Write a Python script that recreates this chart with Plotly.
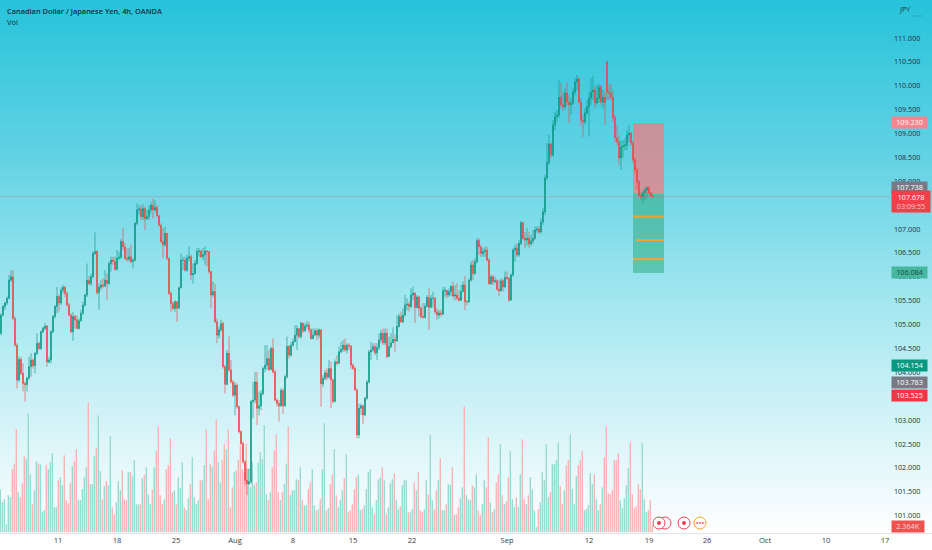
import numpy as np
import plotly.graph_objects as go

# ---- price data (4h candles) ----
first_open = 104.82
open_overrides = {303: 110.50}
closes = [
105.20,105.38,105.45,105.55,105.93,106.00,105.13,104.57,103.84,104.27,
103.98,103.77,103.74,103.88,104.12,104.26,104.14,104.40,104.61,104.50,
104.85,104.92,104.97,104.22,104.26,104.85,105.17,105.38,105.59,105.45,
105.72,105.78,105.65,105.41,105.20,104.85,105.17,105.10,104.92,105.08,
105.24,105.41,105.62,105.93,105.86,106.00,106.49,106.53,105.67,105.78,
105.83,105.81,105.93,105.86,106.28,106.35,106.32,106.16,106.39,106.41,
106.74,106.63,106.39,106.37,106.42,
106.32,106.35,107.12,107.40,107.42,107.26,107.43,107.22,107.26,107.40,
107.50,107.40,107.45,107.28,107.08,106.74,106.67,106.91,106.39,105.65,
105.44,105.34,105.48,105.34,105.77,106.35,106.35,106.14,106.39,106.42,
106.04,106.07,106.28,106.53,106.54,106.42,106.46,106.54,106.53,106.11,
105.62,105.69,105.06,104.78,104.89,105.02,104.12,103.75,104.40,104.05,
103.80,103.52,103.73,103.28,102.76,102.51,102.13,101.74,101.67,101.71,
103.39,103.42,103.80,103.25,103.30,
103.56,104.08,104.15,104.29,104.06,104.50,104.01,103.42,103.35,103.30,
103.62,103.30,103.91,104.54,104.36,104.57,104.64,104.78,104.92,104.75,
105.03,104.87,104.97,104.99,104.89,104.71,104.78,104.87,104.78,104.89,
103.76,103.87,103.99,103.90,104.08,103.84,103.39,104.22,104.19,104.43,
104.48,104.57,104.47,104.57,104.55,104.15,104.08,103.63,102.69,103.25,
103.30,103.11,103.46,103.80,104.43,104.47,104.54,104.41,104.52,104.68,
104.82,104.62,104.82,104.33,104.54,
104.62,104.69,104.66,104.96,105.17,105.06,105.20,105.41,105.43,105.38,
105.62,105.66,105.36,105.58,105.34,105.17,105.15,105.38,105.57,105.36,
105.55,105.55,105.27,105.20,105.24,105.22,105.71,105.72,105.62,105.69,
105.80,105.60,105.62,105.55,105.51,105.69,105.83,105.48,105.48,105.93,
106.25,106.07,106.32,106.76,106.63,106.49,106.53,106.56,106.35,105.86,
106.00,105.90,105.92,105.74,105.71,105.92,105.79,105.99,105.97,105.51,
106.04,106.56,106.60,106.46,106.70,
107.13,106.81,106.77,106.81,106.69,106.75,106.81,106.98,107.00,106.94,
107.15,107.36,108.07,108.40,108.78,108.55,109.18,109.35,109.39,109.76,
109.60,109.56,109.85,109.66,109.60,109.64,109.87,110.08,110.14,109.66,
109.28,109.24,109.43,109.56,109.74,109.87,109.91,109.64,109.74,109.97,
109.66,109.76,109.64,109.87,109.85,109.76,109.33,108.91,108.82,108.49,
108.72,108.74,108.76,108.97,109.01,108.80,108.45,108.24,107.99,107.71,
107.67,107.76,107.82,107.86,107.76,107.70,107.678]
highs = [
105.24,105.41,105.48,105.59,106.04,106.14,106.13,105.17,104.61,104.33,
104.33,104.19,103.81,103.91,104.33,104.40,104.29,104.43,104.82,104.64,
104.88,104.96,105.03,104.99,104.33,104.88,105.20,105.41,105.79,105.62,
105.78,105.83,105.81,105.69,105.45,105.23,105.27,105.20,105.20,105.13,
105.31,105.48,105.65,106.28,106.02,106.07,106.53,106.93,106.56,105.86,
105.93,105.97,106.14,106.07,106.32,106.42,106.42,106.42,106.56,106.53,
106.79,107.02,106.70,106.60,106.60,
106.67,106.39,107.15,107.54,107.50,107.50,107.52,107.47,107.40,107.50,
107.56,107.64,107.61,107.50,107.29,107.12,107.02,107.05,106.92,106.40,
105.69,105.48,105.51,105.48,105.79,106.49,106.42,106.42,106.46,106.63,
106.46,106.28,106.35,106.60,106.60,106.56,106.60,106.63,106.56,106.54,
106.12,105.90,105.86,105.13,104.96,105.10,105.06,104.16,104.47,104.75,
104.26,103.84,103.80,103.77,103.31,102.79,102.55,102.16,101.99,101.99,
103.42,103.80,104.01,104.01,103.60,
103.63,104.12,104.57,104.57,104.47,104.54,104.71,104.05,103.46,103.42,
103.67,103.67,103.94,104.75,104.57,104.64,104.71,104.99,104.99,104.92,
105.06,105.04,105.03,105.08,105.06,104.92,104.92,104.92,104.92,104.92,
104.90,103.94,104.05,104.08,104.26,104.22,103.87,104.27,104.36,104.54,
104.64,104.68,104.71,104.61,104.61,104.57,104.19,104.12,103.67,103.35,
103.35,103.32,103.49,103.84,104.47,104.64,104.61,104.61,104.61,104.82,
104.89,104.92,104.92,104.92,104.75,
104.82,104.94,104.78,105.20,105.23,105.27,105.34,105.62,105.55,105.48,
105.76,105.79,105.67,105.62,105.60,105.38,105.45,105.45,105.62,105.76,
105.62,105.69,105.58,105.34,105.31,105.31,105.79,105.79,105.72,105.76,
105.83,105.90,105.83,105.86,105.72,105.83,105.90,106.02,105.51,105.97,
106.32,106.35,106.39,106.81,106.81,106.67,106.60,106.63,106.63,106.39,
106.04,106.04,106.00,105.95,105.93,105.97,105.95,106.11,106.11,106.00,
106.07,106.60,106.67,106.70,106.77,
107.17,107.15,106.94,107.02,106.94,106.88,106.98,107.06,107.06,107.06,
107.23,107.44,108.13,108.80,108.97,108.80,109.28,109.45,109.49,110.12,
110.06,109.87,109.95,110.06,109.80,109.74,109.95,110.16,110.23,110.18,
109.74,109.39,109.53,109.70,109.87,110.16,110.20,109.99,110.02,110.04,
110.02,109.91,109.87,110.52,110.02,110.04,109.91,109.39,109.18,108.97,
108.86,108.86,108.91,109.07,109.18,109.03,108.86,108.49,108.28,108.03,
107.78,107.82,107.88,107.90,107.90,107.78,107.72]
lows = [
104.78,105.17,105.31,105.41,105.53,105.90,105.10,104.54,103.67,103.80,
103.94,103.60,103.39,103.60,103.84,103.91,104.08,103.98,104.36,104.47,
104.47,104.82,104.89,104.12,104.19,104.19,104.82,105.13,105.24,105.27,
105.41,105.65,105.58,105.38,105.17,104.82,104.66,104.92,104.90,104.90,
105.06,105.20,105.38,105.58,105.83,105.81,105.97,106.46,105.62,105.31,
105.72,105.76,105.78,105.52,105.83,106.11,106.25,106.13,106.13,106.35,
106.37,106.56,106.35,106.32,106.32,
106.28,106.18,106.32,107.08,107.29,107.19,107.19,106.98,107.19,107.19,
107.33,107.22,107.36,107.26,107.05,106.70,106.39,106.63,106.35,105.62,
105.27,105.30,105.27,105.06,105.34,105.76,106.14,106.11,106.11,106.32,
105.93,105.86,106.04,106.25,106.42,106.39,106.35,106.25,106.21,106.07,
105.34,105.58,105.03,104.61,104.71,104.85,104.08,103.56,103.73,104.01,
103.77,103.49,103.10,103.24,102.72,102.48,102.09,101.64,101.43,101.64,
101.67,103.04,103.35,102.90,103.10,
103.21,103.52,104.00,104.05,104.03,104.05,103.98,103.39,103.28,102.97,
103.28,103.13,103.28,103.87,104.29,104.33,104.54,104.64,104.47,104.71,
104.71,104.82,104.85,104.92,104.82,104.68,104.69,104.82,104.68,104.71,
103.28,103.69,103.84,103.84,103.87,103.25,103.35,103.39,104.15,104.19,
104.40,104.43,104.43,104.40,104.47,104.08,104.05,103.62,102.62,102.62,
103.11,102.92,103.08,103.43,103.77,104.26,104.43,104.36,104.26,104.47,
104.61,104.57,104.57,104.29,104.33,
104.50,104.64,104.43,104.64,104.94,105.03,105.03,105.17,105.30,105.27,
105.34,105.51,105.03,105.34,105.17,105.13,105.13,105.13,105.36,104.89,
105.36,105.36,105.23,105.10,105.13,105.17,105.20,105.58,105.55,105.58,
105.60,105.55,105.51,105.51,105.48,105.55,105.69,105.30,105.41,105.45,
105.90,105.93,106.04,106.28,106.46,106.42,106.42,106.42,106.32,105.83,
105.83,105.83,105.86,105.71,105.60,105.69,105.69,105.76,105.93,105.48,
105.51,106.00,106.32,106.42,106.42,
106.67,106.77,106.60,106.65,106.60,106.65,106.69,106.77,106.92,106.90,
106.90,107.09,107.29,108.03,108.34,108.49,108.51,109.07,109.24,109.33,
109.53,109.47,109.51,109.58,109.22,109.39,109.60,109.81,109.91,109.60,
109.18,108.93,109.18,109.39,108.94,109.60,109.70,109.53,109.60,109.64,
109.60,109.53,109.18,109.70,109.70,109.70,109.24,108.82,108.76,108.34,
108.24,108.49,108.65,108.65,108.82,108.74,108.38,108.17,107.82,107.67,
107.61,107.55,107.61,107.65,107.71,107.65,107.66]
# relative volume units (last bar corresponds to 2.364K)
volumes = [
130,90,100,25,110,105,190,205,310,120,
105,147,227,220,358,175,83,127,212,207,
205,60,65,202,190,210,238,75,75,157,
165,140,232,95,87,148,198,213,250,95,
95,130,165,195,390,145,143,227,253,352,
183,100,138,153,140,287,75,55,90,152,
127,187,100,95,180,
180,167,217,85,85,85,162,172,195,115,
85,130,195,243,318,110,85,100,190,200,
283,120,125,85,165,133,210,75,65,102,
145,225,105,85,95,155,155,202,310,100,
205,195,245,340,210,150,215,265,250,310,
75,135,180,185,215,260,190,180,265,190,
135,210,140,150,210,
240,218,320,115,95,120,195,245,295,120,
95,120,145,205,317,110,125,125,160,155,
195,95,80,80,130,150,188,80,65,70,
100,190,327,65,73,145,173,250,110,75,
95,125,162,235,60,65,85,130,165,175,
65,70,80,130,180,190,75,55,95,160,
165,195,155,55,75,
148,160,178,95,70,77,142,155,157,60,
60,70,150,125,180,67,60,70,157,113,
290,95,70,125,155,223,65,65,85,145,
140,195,50,55,75,103,135,377,110,100,
97,140,135,175,65,50,85,157,135,285,
90,60,70,150,175,263,110,85,93,165,
242,100,75,105,75,
175,280,100,85,110,165,130,65,15,70,
90,180,155,265,105,120,205,205,215,270,
138,85,127,200,215,295,130,85,167,200,
215,242,67,70,80,177,145,173,100,67,
85,135,225,318,117,113,127,217,215,238,
95,73,103,142,192,270,115,73,77,143,
128,267,100,60,65,95,21]

price_ticks = [101,101.5,102,102.5,103,103.5,104,104.5,105,105.5,106,106.5,107,107.5,108,108.5,109,109.5,110,110.5,111]
date_tick_pos = [28.5,58,87.5,117,146,176,205.5,253,294,324,353,382,412.5,442]
date_tick_text = ["11","18","25","Aug","8","15","22","Sep","12","19","26","Oct","10","17"]
event_pos = [332,329,341.5]

stop_price, entry_price, target_price = 109.230, 107.738, 106.084
take_profits = [107.26,106.77,106.37]
last_price = 107.678

assert len(closes)==len(highs)==len(lows)==len(volumes), (len(closes),len(highs),len(lows),len(volumes))

n = len(closes)
opens = [first_open] + closes[:-1]
for k, v in open_overrides.items():
    opens[k] = v
idx = list(range(n))

vol_colors = ["#98d9d0" if c >= o else "#f7b6b4" for o, c in zip(opens, closes)]

W, H = 932, 550
FONT = "Open Sans"
TXT = "#24323f"

fig = go.Figure()

# gradient backdrop
gy = np.linspace(0, 1, 134)
fig.add_trace(go.Heatmap(x=[-0.5, 465.5], y=gy, z=[[v, v] for v in gy], showscale=False, hoverinfo="skip",
    zmin=0, zmax=1,
    colorscale=[[0, "#ffffff"], [0.12, "#e6f8fb"], [0.45, "#a0e6ef"], [0.7, "#63d3e4"], [1, "#26c3da"]],
    xaxis="x", yaxis="y"))

# volumes: a hairline bar with a coloured outline gives a soft bar about 1.4 px wide
fig.add_trace(go.Bar(x=idx, y=volumes, width=0.05,
                     marker=dict(color=vol_colors, line=dict(color=vol_colors, width=1.4)),
                     xaxis="x", yaxis="y2", hoverinfo="skip"))

# position box
mid = 323.75
fig.add_trace(go.Bar(x=[mid], y=[stop_price-entry_price], base=[entry_price], width=[15.5],
                     marker=dict(color="rgba(255,115,118,0.67)", line_width=0), xaxis="x", yaxis="y3", hoverinfo="skip"))
fig.add_trace(go.Bar(x=[mid], y=[entry_price-target_price], base=[target_price], width=[15.5],
                     marker=dict(color="rgba(40,165,120,0.5)", line_width=0), xaxis="x", yaxis="y3", hoverinfo="skip"))

# candles
fig.add_trace(go.Candlestick(x=idx, open=opens, high=highs, low=lows, close=closes,
    increasing=dict(line=dict(color="rgba(10,150,130,0.62)", width=1), fillcolor="#089a84"),
    decreasing=dict(line=dict(color="rgba(238,70,70,0.62)", width=1), fillcolor="#ee3f3f"),
    whiskerwidth=0, xaxis="x", yaxis="y3", hoverinfo="skip"))

# calendar markers
fig.add_trace(go.Scatter(x=event_pos, y=[30]*len(event_pos), mode="markers", xaxis="x", yaxis="y2",
    marker=dict(symbol="circle", size=12, color="white", line=dict(color="#ef3f55", width=1)), hoverinfo="skip"))
fig.add_trace(go.Scatter(x=event_pos, y=[30]*len(event_pos), mode="markers", xaxis="x", yaxis="y2",
    marker=dict(symbol="circle", size=4, color=["rgba(0,0,0,0)", "#ef3f55", "#ef3f55"]), hoverinfo="skip"))
fig.add_trace(go.Scatter(x=[349.5], y=[30], mode="markers", xaxis="x", yaxis="y2",
    marker=dict(symbol="circle", size=12, color="white", line=dict(color="#f5a623", width=1)), hoverinfo="skip"))
fig.add_trace(go.Scatter(x=[348.1, 349.5, 350.9], y=[30, 30, 30], mode="markers", xaxis="x", yaxis="y2",
    marker=dict(symbol="square", size=[3, 3, 3], color="#ef3f55"), hoverinfo="skip"))

shapes = [dict(type="line", xref="paper", yref="y3", x0=0, x1=890/W, y0=last_price, y1=last_price,
               line=dict(color="rgba(225,105,115,0.3)", width=1))]
for p, x0 in zip(take_profits, [316, 317.5, 316]):
    shapes.append(dict(type="line", xref="x", yref="y3", x0=x0, x1=331.5, y0=p, y1=p,
                       line=dict(color="#f0a62a", width=2)))
shapes.append(dict(type="line", xref="paper", yref="paper", x0=912/W, x1=922/W, y0=(550-16-17)/533, y1=(550-16-17)/533,
                   line=dict(color="rgba(40,120,140,0.4)", width=1)))

ann = [
    dict(text="Canadian Dollar / Japanese Yen, 4h, OANDA", x=5/W, y=1-11/533, xanchor="left", font=dict(size=7.4, color="#10303f", family=FONT, weight=600)),
    dict(text="Vol", x=5/W, y=1-22/533, xanchor="left", font=dict(size=7.6, color="#10303f", family=FONT)),
    dict(text="JPY", x=897/W, y=1-9/533, xanchor="left", font=dict(size=7.2, color=TXT, family=FONT)),
]
for a in ann:
    a.update(xref="paper", yref="paper", yanchor="middle", showarrow=False)

def tag(text, price, bg, fg="#ffffff", w=35, h=10.5, x=891):
    return dict(text=text, xref="paper", yref="y3", x=x/W, y=price, xanchor="left", yanchor="middle",
                showarrow=False, width=w, height=h, bgcolor=bg, borderpad=0, align="center",
                font=dict(size=7.2, color=fg, family=FONT))

ann += [
    tag("109.230", stop_price, "#f8848e"),
    tag("107.738", entry_price+0.14, "#787b86"),
    tag("107.678<br><span style='color:#fbc9cc'>03:09:55</span>", last_price-0.10, "#f23f4a", w=38, h=21),
    tag("106.084", target_price, "#46b8a0", fg="#17453f"),
    tag("104.154", 104.154, "#089981"),
    tag("103.783", 103.783, "#787b86"),
    tag("103.525", 103.525, "#f23645"),
    dict(text="2.364K", xref="paper", yref="y2", x=891/W, y=21, xanchor="left", yanchor="middle", showarrow=False,
         width=32, height=10.5, bgcolor="#ef5350", borderpad=0, align="center", font=dict(size=7.2, color="#fbdada", family=FONT)),
]

fig.update_layout(
    width=W, height=H, margin=dict(l=0, r=0, t=0, b=17), paper_bgcolor="white", plot_bgcolor="white",
    showlegend=False, barmode="overlay", bargap=0, hovermode=False, shapes=shapes, annotations=ann,
    font=dict(family=FONT, size=7.2, color=TXT),
    xaxis=dict(range=[-0.5, 465.5], tickmode="array", tickvals=date_tick_pos, ticktext=date_tick_text,
               showgrid=False, zeroline=False, rangeslider=dict(visible=False), ticks="", showline=True,
               linecolor="#e0e3e8", linewidth=1, tickfont=dict(size=7.6, color="#3a4048", family=FONT),
               fixedrange=True),
    yaxis=dict(range=[0, 1], visible=False, fixedrange=True),
    yaxis2=dict(range=[0, 1599], overlaying="y", visible=False, fixedrange=True),
    yaxis3=dict(range=[100.638, 111.795], overlaying="y", side="right", tickmode="array", tickvals=price_ticks,
                ticktext=[f"{v:.3f}" for v in price_ticks], ticklabelposition="inside", ticks="inside", ticklen=10,
                tickcolor="rgba(0,0,0,0)", showgrid=False, zeroline=False, showline=False,
                tickfont=dict(size=7.2, color=TXT, family=FONT), fixedrange=True),
)

fig.write_html("out.html", config={"displayModeBar": False},
               post_script="document.body.style.margin='0';document.documentElement.style.overflow='hidden';")
